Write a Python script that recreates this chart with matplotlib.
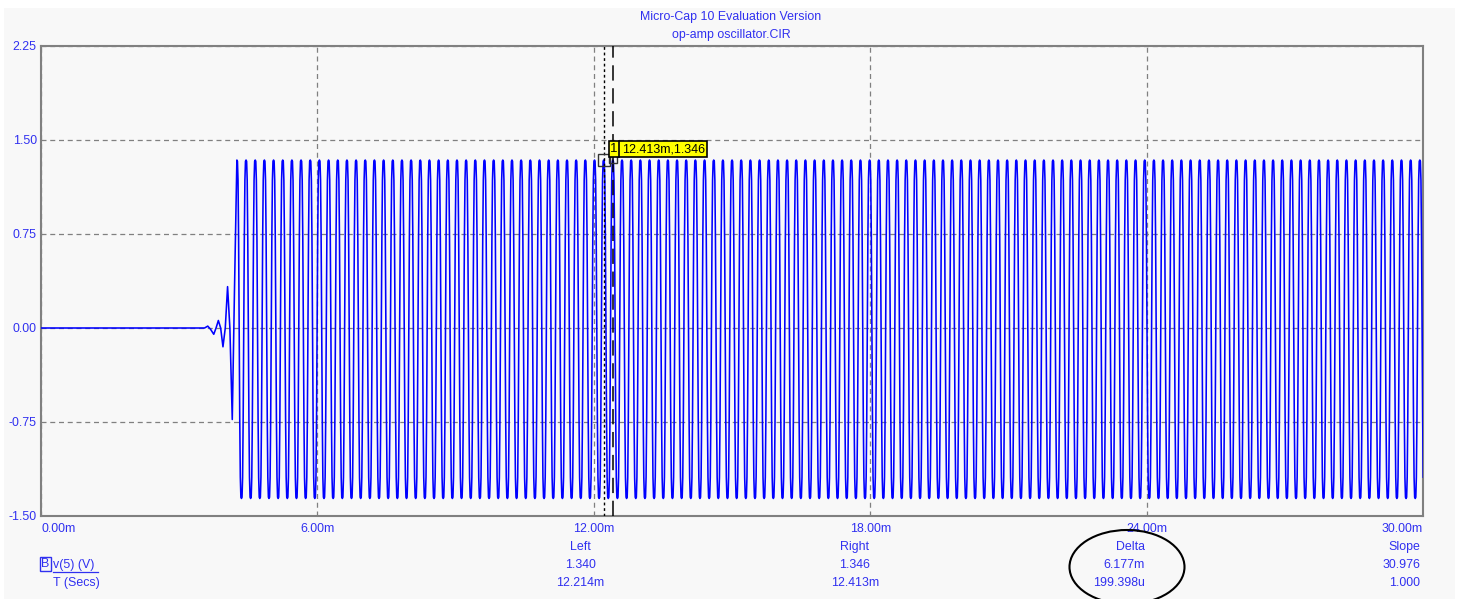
#!/usr/bin/env python3
import numpy as np
import matplotlib
matplotlib.use('Agg')
import matplotlib.pyplot as plt
from matplotlib.patches import Rectangle, Ellipse
from matplotlib.lines import Line2D

# --- data (time in ms, voltage in V) ---
startup_t = [0.0, 3.55, 3.62, 3.68, 3.75, 3.80, 3.85, 3.90, 3.95, 4.00, 4.05, 4.10, 4.152, 4.20]
startup_v = [0.0, 0.0, 0.015, -0.01, -0.05, 0.0, 0.06, 0.0, -0.15, 0.0, 0.33, 0.0, -0.73, 0.30]

# one period of the steady oscillation, 16 samples starting at a peak
cycle_shape = [1.34, 1.33, 1.18, 0.72, 0.0, -0.72, -1.19, -1.35,
               -1.36, -1.35, -1.19, -0.72, 0.0, 0.72, 1.18, 1.33]
period_ms = 0.19906
first_peak_ms = 4.252
t_end_ms = 30.0

cursor_left = (12.214, 1.340)
cursor_right = (12.413, 1.346)

x_ticks = [0, 6, 12, 18, 24, 30]
x_labels = ['0.00m', '6.00m', '12.00m', '18.00m', '24.00m', '30.00m']
y_ticks = [-1.5, -0.75, 0.0, 0.75, 1.5, 2.25]
y_labels = ['-1.50', '-0.75', '0.00', '0.75', '1.50', '2.25']

readout_cols = ['Left', 'Right', 'Delta', 'Slope']
readout_v = ['1.340', '1.346', '6.177m', '30.976']
readout_t = ['12.214m', '12.413m', '199.398u', '1.000']

title1 = 'Micro-Cap 10 Evaluation Version'
title2 = 'op-amp oscillator.CIR'

# build the waveform by repeating the read cycle
n_cycles = int((t_end_ms - first_peak_ms) / period_ms) + 2
n_s = len(cycle_shape)
steady_t = first_peak_ms + np.arange(n_cycles * n_s) * period_ms / n_s
steady_v = np.tile(cycle_shape, n_cycles)
keep = steady_t <= t_end_ms + period_ms
t = np.concatenate([startup_t, steady_t[keep]])
v = np.concatenate([startup_v, steady_v[keep]])

W, H = 1464, 599
txt_col = '#3030f0'
bg = '#f8f8f8'
plt.rcParams['font.family'] = ['Liberation Sans', 'DejaVu Sans']
plt.rcParams['font.size'] = 8.9

def fx(px):
    return px / W

def fy(py):
    return 1 - py / H

fig = plt.figure(figsize=(W / 100, H / 100), dpi=100, facecolor='white')
fig.add_artist(Rectangle((fx(4), 0), fx(1455 - 4), fy(8), transform=fig.transFigure,
                         facecolor=bg, edgecolor='none', zorder=-10))

ax = fig.add_axes([fx(41), fy(516), fx(1423 - 41), (516 - 46) / H])
ax.set_facecolor(bg)
ax.plot(t, v, color='#0000ff', lw=1.15, zorder=3)
ax.set_xlim(0, 30)
ax.set_ylim(-1.5, 2.25)

ax.set_xticks(x_ticks, x_labels)
ax.set_yticks(y_ticks, y_labels)
ax.tick_params(axis='both', length=0, colors=txt_col, labelsize=8.9)
ax.tick_params(axis='x', pad=5)
ax.tick_params(axis='y', pad=3)
xl = ax.get_xticklabels()
xl[0].set_ha('left')
xl[-1].set_ha('right')
ax.grid(True, color='#808080', linestyle=(0, (4, 3)), lw=0.9)
for s in ax.spines.values():
    s.set_color('#808080')
    s.set_linewidth(1.5)

# cursors
ax.axvline(cursor_left[0], color='black', ls=(0, (2, 2)), lw=1.0, zorder=4)
ax.axvline(cursor_right[0], color='black', ls=(0, (10, 5)), lw=1.1, zorder=4)
ax.plot(*cursor_left, marker='s', ms=8, mfc='none', mec='#333333', mew=1.0, zorder=5)
ax.plot(*cursor_right, marker='s', ms=6, mfc='none', mec='#333333', mew=1.0, zorder=5)

# cursor value label: yellow box with a small "1" cell
box_x0, box_x1, box_div = 12.33, 14.457, 12.553
box_y0, box_y1 = 1.365, 1.49
ax.add_patch(Rectangle((box_x0, box_y0), box_x1 - box_x0, box_y1 - box_y0,
                       facecolor='#ffff00', edgecolor='black', lw=1.2, zorder=6))
ax.plot([box_div, box_div], [box_y0, box_y1], color='black', lw=1.2, zorder=7)
yc = (box_y0 + box_y1) / 2
ax.text((box_x0 + box_div) / 2, yc, '1', ha='center', va='center', fontsize=9.5,
        color='black', zorder=8)
ax.text((box_div + box_x1) / 2, yc, '%.3fm,%.3f' % cursor_right, ha='center', va='center',
        fontsize=9, color='black', zorder=8)

# titles
fig.text(fx(731), fy(17), title1, ha='center', va='center', color=txt_col)
fig.text(fx(731), fy(35), title2, ha='center', va='center', color=txt_col)

# readout table
col_x = [580, 855, 1145, 1420]
col_ha = ['center', 'center', 'right', 'right']
for name, vv, tt, x, ha in zip(readout_cols, readout_v, readout_t, col_x, col_ha):
    fig.text(fx(x), fy(547), name, ha=ha, va='center', color=txt_col)
    fig.text(fx(x), fy(565), vv, ha=ha, va='center', color=txt_col)
    fig.text(fx(x), fy(583), tt, ha=ha, va='center', color=txt_col)

fig.text(fx(45.5), fy(564), 'B', ha='center', va='center', color=txt_col,
         bbox=dict(boxstyle='square,pad=0.12', fc='none', ec=txt_col, lw=1.0))
fig.text(fx(53), fy(565), 'v(5) (V)', ha='left', va='center', color=txt_col)
fig.add_artist(Line2D([fx(53), fx(98)], [fy(572), fy(572)], color=txt_col, lw=0.9))
fig.text(fx(53), fy(583), 'T (Secs)', ha='left', va='center', color=txt_col)

fig.add_artist(Ellipse((fx(1127), fy(567)), fx(115), 74 / H, transform=fig.transFigure,
                       facecolor='none', edgecolor='black', lw=1.5, clip_on=False))

fig.savefig('out.png', dpi=100, facecolor=fig.get_facecolor())
